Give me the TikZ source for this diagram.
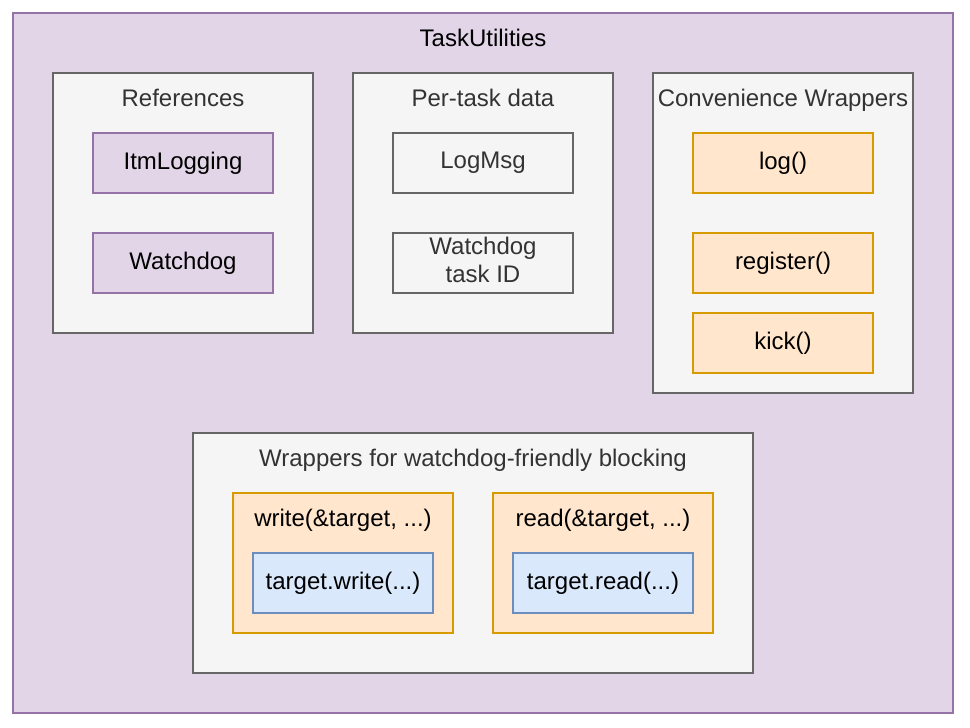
\documentclass[tikz,border=0pt]{standalone}
\usepackage{fontspec}
\setmainfont{Liberation Sans}
\definecolor{purpF}{HTML}{E1D5E7}
\definecolor{purpS}{HTML}{9673A6}
\definecolor{grayF}{HTML}{F5F5F5}
\definecolor{grayS}{HTML}{666666}
\definecolor{grayT}{HTML}{333333}
\definecolor{orF}{HTML}{FFE6CC}
\definecolor{orS}{HTML}{D79B00}
\definecolor{blF}{HTML}{DAE8FC}
\definecolor{blS}{HTML}{6C8EBF}
\tikzset{
  base/.style={rectangle, line width=1.5pt, inner sep=0pt, font=\fontsize{24}{28}\selectfont, align=center},
  purpbox/.style={base, draw=purpS, fill=purpF},
  graybox/.style={base, draw=grayS, fill=grayF, text=grayT},
  orbox/.style={base, draw=orS, fill=orF},
  blbox/.style={base, draw=blS, fill=blF},
  ttl/.style={inner sep=0pt, font=\fontsize{24}{28}\selectfont, text height=17pt, text depth=5pt},
}
\begin{document}
\begin{tikzpicture}[x=1pt,y=-1pt]
\useasboundingbox (0,0) rectangle (970,728);
% outer
\node[purpbox, minimum width=940pt, minimum height=700pt] (outer) at (483,363) {};
\node[ttl] (outerT) at (483,40) {TaskUtilities};
% References
\node[graybox, minimum width=260pt, minimum height=260pt] (refs) at (183,203) {};
\node[ttl, text=grayT] (refsT) at (183,100) {References};
\node[purpbox, minimum width=180pt, minimum height=60pt] (itm) at (183,163) {ItmLogging};
\node[purpbox, minimum width=180pt, minimum height=60pt] (wd) at (183,263) {Watchdog};
% Per-task data
\node[graybox, minimum width=260pt, minimum height=260pt] (ptd) at (483,203) {};
\node[ttl, text=grayT] (ptdT) at (483,100) {Per-task data};
\node[graybox, minimum width=180pt, minimum height=60pt] (logmsg) at (483,163) {LogMsg};
\node[graybox, minimum width=180pt, minimum height=60pt] (wdid) at (483,263) {};
\node[text=grayT, inner sep=0pt, align=center, font=\fontsize{24}{28}\selectfont] (wdidT) at (483,260) {Watchdog\\task ID};
% Convenience Wrappers
\node[graybox, minimum width=260pt, minimum height=320pt] (conv) at (783,233) {};
\node[ttl, text=grayT] (convT) at (783,100) {Convenience Wrappers};
\node[orbox, minimum width=180pt, minimum height=60pt] (log) at (783,163) {log()};
\node[orbox, minimum width=180pt, minimum height=60pt] (reg) at (783,263) {register()};
\node[orbox, minimum width=180pt, minimum height=60pt] (kick) at (783,343) {kick()};
% Wrappers for blocking
\node[graybox, minimum width=560pt, minimum height=240pt] (wrap) at (473,553) {};
\node[ttl, text=grayT] (wrapT) at (473,460) {Wrappers for watchdog-friendly blocking};
\node[orbox, minimum width=220pt, minimum height=140pt] (wr) at (343,563) {};
\node[ttl] (wrT) at (343,520) {write(\&target, ...)};
\node[blbox, minimum width=180pt, minimum height=60pt] (twr) at (343,583) {target.write(...)};
\node[orbox, minimum width=220pt, minimum height=140pt] (rd) at (603,563) {};
\node[ttl] (rdT) at (603,520) {read(\&target, ...)};
\node[blbox, minimum width=180pt, minimum height=60pt] (trd) at (603,583) {target.read(...)};
\end{tikzpicture}
\end{document}
